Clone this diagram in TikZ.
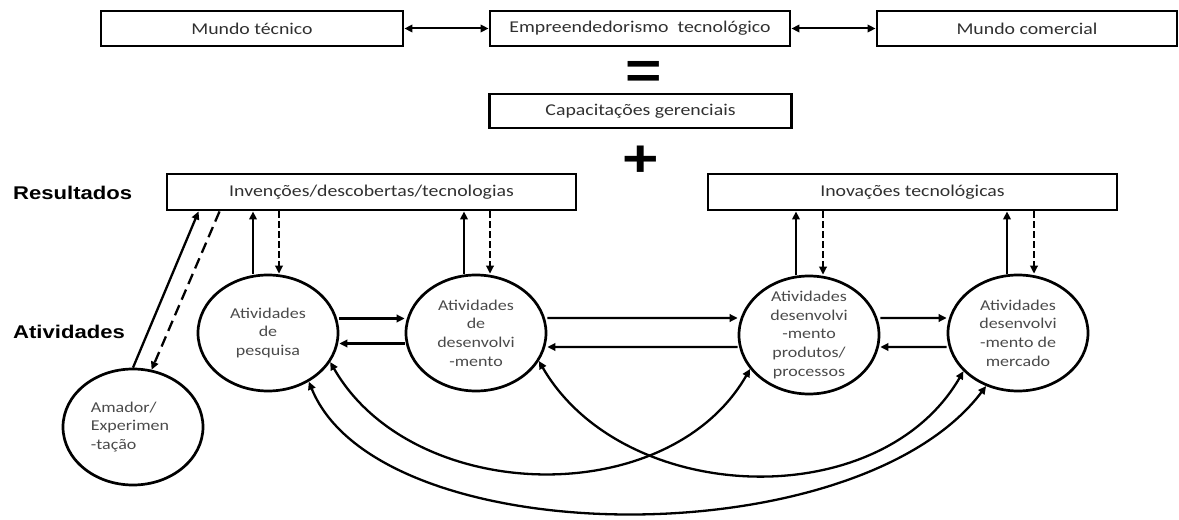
\documentclass[tikz,border=0pt]{standalone}
\usepackage{fontspec}
\setmainfont[FakeStretch=1.2]{Carlito}
\newfontfamily\headfont[FakeStretch=1.2]{Liberation Sans}
\usetikzlibrary{arrows.meta,shapes.geometric,calc}
\definecolor{boxtext}{HTML}{303030}
\definecolor{circtext}{HTML}{4A4A4A}
\begin{document}
\begin{tikzpicture}[x=1bp,y=1bp,
  box/.style={draw, line width=2.9bp, minimum height=35bp, inner sep=0pt,
    font=\fontsize{16.5bp}{20bp}\selectfont, text=boxtext},
  act/.style={ellipse, draw, line width=2.7bp, minimum width=140bp,
    minimum height=116bp, inner sep=0pt},
  acttext/.style={font=\fontsize{15bp}{18.7bp}\selectfont, text=circtext,
    align=center, inner sep=0pt},
  heading/.style={font=\headfont\bfseries\fontsize{18.4bp}{22bp}\selectfont,
    anchor=west, inner sep=0pt},
  sign/.style={font=\headfont\bfseries\fontsize{52bp}{52bp}\selectfont,
    anchor=base, inner sep=0pt},
  flow/.style={line width=2.3bp, -{Triangle[length=8bp,width=7.5bp]}},
  both/.style={line width=2.3bp,
    {Triangle[length=8bp,width=7.5bp]}-{Triangle[length=8bp,width=7.5bp]}},
  fb/.style={flow, dash pattern=on 6.5bp off 3.5bp},
]
\useasboundingbox (0,0) rectangle (1179,-520);

% top row
\node[box, minimum width=302bp] (tec) at (252,-28.5) {Mundo técnico};
\node[box, minimum width=300bp] (emp) at (640,-28.5) {Empreendedorismo~ tecnológico};
\node[box, minimum width=300bp] (com) at (1027,-28.5) {Mundo comercial};
\draw[both, line width=2bp] (tec) -- (emp);
\draw[both, line width=2bp] (emp) -- (com);

\node[sign] (eq) at (643.5,-88.7) {=};
\node[box, minimum width=302bp, minimum height=34bp] (cap) at (640.5,-111) {Capacitações gerenciais};
\node[sign] (plus) at (640.5,-177) {+};

% results
\node[box, minimum width=409bp, minimum height=36bp] (inv) at (371.5,-192) {Invenções/descobertas/tecnologias};
\node[box, minimum width=409bp, minimum height=36bp] (ino) at (912.5,-192) {Inovações tecnológicas};

\node[heading] (res) at (13,-193) {Resultados};
\node[heading] (ativ) at (13,-332) {Atividades};

% activities
\node[act, label={[acttext, align=left, xshift=-3bp]center:{Amador/\\Experimen\\-tação}}] (ama) at (133,-427) {};
\node[act, label={[acttext]center:{Atividades\\de\\pesquisa}}] (pesq) at (268,-333) {};
\node[act, label={[acttext]center:{Atividades\\de\\desenvolvi\\-mento}}] (desen) at (476,-333) {};
\node[act, minimum height=118bp, label={[acttext]center:{Atividades\\desenvolvi\\-mento\\produtos/\\processos}}] (prod) at (809,-335) {};
\node[act, label={[acttext]center:{Atividades\\desenvolvi\\-mento de\\mercado}}] (merc) at (1018,-333) {};

% amateur experimentation
\draw[flow] (ama.north) -- ($(inv.south west)+(33,0)$);
\draw[flow, dash pattern=on 11bp off 6bp] ($(inv.south west)+(54,0)$) -- (ama.72);

% up to results / feedback down
\draw[flow] ([xshift=-15bp]pesq.north) -- ([xshift=-15bp]inv.south -| pesq.north);
\draw[fb] ([xshift=11bp]inv.south -| pesq.north) -- ([xshift=11bp]pesq.north);
\draw[flow] ([xshift=-12bp]desen.north) -- ([xshift=-12bp]inv.south -| desen.north);
\draw[fb] ([xshift=14bp]inv.south -| desen.north) -- ([xshift=14bp]desen.north);
\draw[flow] ([xshift=-13bp]prod.north) -- ([xshift=-13bp]ino.south -| prod.north);
\draw[fb] ([xshift=14bp]ino.south -| prod.north) -- ([xshift=14bp]prod.north);
\draw[flow] ([xshift=-11bp]merc.north) -- ([xshift=-11bp]ino.south -| merc.north);
\draw[fb] ([xshift=16bp]ino.south -| merc.north) -- ([xshift=16bp]merc.north);

% links between activities
\draw[flow] ([yshift=14.5bp]pesq.east) -- ([yshift=14.5bp]desen.west);
\draw[flow] ([yshift=-10.5bp]desen.west) -- ([yshift=-10.5bp]pesq.east);
\draw[flow] ([yshift=15bp]desen.east) -- ([yshift=17bp]prod.west);
\draw[flow] ([yshift=-12bp]prod.west) -- ([yshift=-14bp]desen.east);
\draw[flow] ([yshift=17bp]prod.east) -- ([yshift=15bp]merc.west);
\draw[flow] ([yshift=-14bp]merc.west) -- ([yshift=-12bp]prod.east);

% long-range links
\draw[both] (pesq.-25) .. controls +(82,-143) and +(-82,-143) .. (prod.210.7);
\draw[both] (desen.-24) .. controls +(84,-145) and +(-84,-145) .. (merc.215.8);
\draw[both] (pesq.-50) .. controls +(70,-172) and +(-130,-172) .. (merc.239);
\end{tikzpicture}
\end{document}
